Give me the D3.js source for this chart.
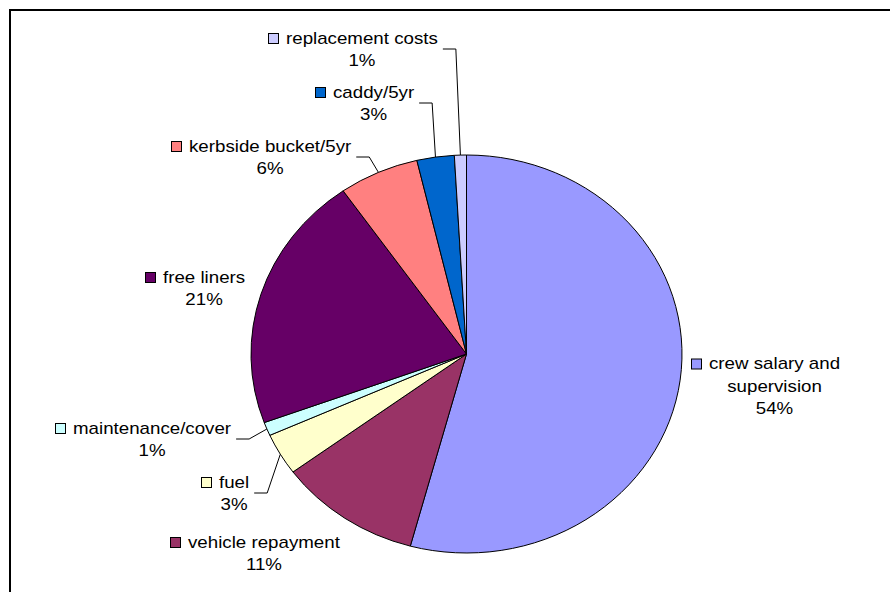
<!DOCTYPE html>
<html>
<head>
<meta charset="utf-8">
<script src="https://cdn.jsdelivr.net/npm/d3@7"></script>
<style>
  html, body { margin: 0; padding: 0; background: #fff; }
  svg { display: block; }
  text { font-family: "Liberation Sans", Arial, sans-serif; font-size: 16px; fill: #000; }
</style>
</head>
<body>
<svg id="chart" width="890" height="592"></svg>
<script>
// Cost breakdown, clockwise from 12 o'clock
const categories = [
  "crew salary and supervision",
  "vehicle repayment",
  "fuel",
  "maintenance/cover",
  "free liners",
  "kerbside bucket/5yr",
  "caddy/5yr",
  "replacement costs"
];
const shares = [54.2, 10.7, 3.4, 1.1, 20.9, 6.0, 2.8, 0.9];
const sliceColors = ["#9999FF", "#993366", "#FFFFCC", "#CCFFFF", "#660066", "#FF8080", "#0066CC", "#CCCCFF"];

// Label placement: text start and first baseline; optional leader line and line break
const labelLayout = {
  "crew salary and supervision": { x: 709, y: 369, breakAfter: 3 },
  "vehicle repayment":           { x: 188, y: 547.5 },
  "fuel":                        { x: 219, y: 487.5, leader: true },
  "maintenance/cover":           { x: 73,  y: 433.5, leader: true },
  "free liners":                 { x: 163, y: 282.5 },
  "kerbside bucket/5yr":         { x: 189, y: 151.5, leader: true },
  "caddy/5yr":                   { x: 333, y: 97.5,  leader: true },
  "replacement costs":           { x: 286, y: 43.5,  leader: true }
};

const W = 890, H = 592;
const cx = 466.5, cy = 354, rx = 215.5, ry = 199;
const textStretch = 1.17;
const lineGap = 22.5;

const svg = d3.select("#chart");

// outer frame
svg.append("rect")
  .attr("x", 10).attr("y", 10)
  .attr("width", W + 20).attr("height", H + 20)
  .attr("fill", "none").attr("stroke", "#000").attr("stroke-width", 2);

const total = d3.sum(shares);
const data = categories.map((c, i) => ({ name: c, value: shares[i], color: sliceColors[i] }));

const pie = d3.pie().sort(null).value(d => d.value).startAngle(0).endAngle(2 * Math.PI);
const arcs = pie(data);
const arc = d3.arc().innerRadius(0).outerRadius(rx);

const pieG = svg.append("g")
  .attr("transform", `translate(${cx},${cy}) scale(1,${ry / rx})`);

pieG.selectAll("path")
  .data(arcs)
  .join("path")
  .attr("d", arc)
  .attr("fill", d => d.data.color)
  .attr("stroke", "#000")
  .attr("stroke-width", 1)
  .attr("vector-effect", "non-scaling-stroke")
  .attr("stroke-linejoin", "round");

// point on the elliptical rim at a pie angle
function rimPoint(a) {
  return [cx + rx * Math.sin(a), cy - ry * Math.cos(a)];
}

const labelG = svg.append("g");

arcs.forEach(a => {
  const d = a.data;
  const L = labelLayout[d.name];
  const pct = Math.round(d.value / total * 100) + "%";

  let firstLine = d.name, extra = [];
  if (L.breakAfter) {
    const words = d.name.split(" ");
    firstLine = words.slice(0, L.breakAfter).join(" ");
    extra.push(words.slice(L.breakAfter).join(" "));
  }
  extra.push(pct);

  // legend key square
  labelG.append("rect")
    .attr("x", L.x - 17.5).attr("y", L.y - 10)
    .attr("width", 10).attr("height", 10)
    .attr("fill", d.color).attr("stroke", "#000").attr("stroke-width", 1);

  const t1 = labelG.append("text")
    .attr("transform", `translate(${L.x},${L.y}) scale(${textStretch},1)`)
    .text(firstLine);
  const w1 = t1.node().getComputedTextLength() * textStretch;
  const mid = L.x + w1 / 2;

  extra.forEach((s, k) => {
    labelG.append("text")
      .attr("transform", `translate(${mid},${L.y + lineGap * (k + 1)}) scale(${textStretch},1)`)
      .attr("text-anchor", "middle")
      .text(s);
  });

  if (L.leader) {
    const midAngle = (a.startAngle + a.endAngle) / 2;
    const [px, py] = rimPoint(midAngle);
    const sx = L.x + w1 + 5, sy = L.y + 5.5;
    labelG.append("polyline")
      .attr("points", [[sx, sy], [sx + 13, sy], [px, py]].map(p => p.join(",")).join(" "))
      .attr("fill", "none").attr("stroke", "#000").attr("stroke-width", 1);
  }
});
</script>
</body>
</html>
